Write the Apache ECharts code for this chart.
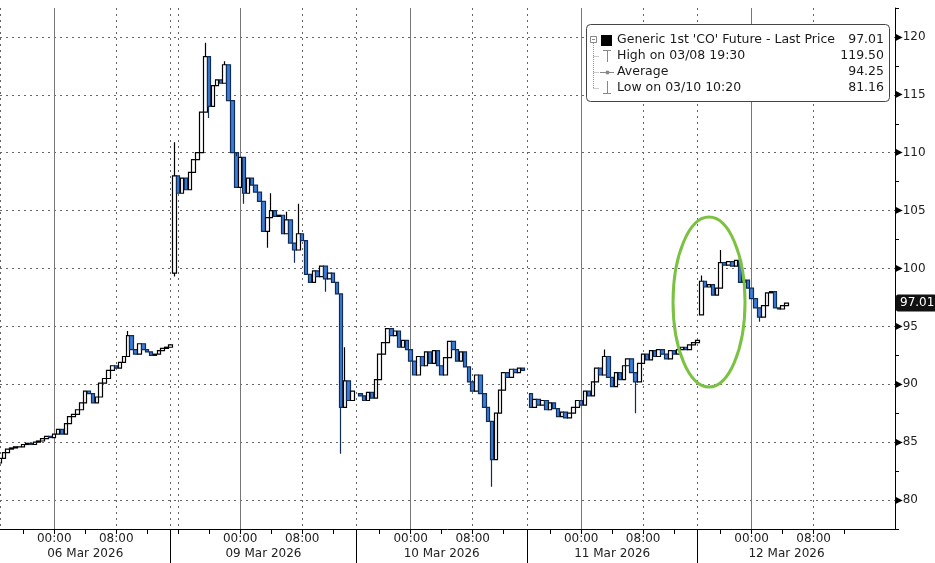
<!DOCTYPE html>
<html>
<head>
<meta charset="utf-8">
<script src="https://cdn.jsdelivr.net/npm/echarts@6/dist/echarts.min.js"></script>
<style>
  html, body { margin: 0; background: #fff; }
  #main { width: 935px; height: 563px; }
</style>
</head>
<body>
<div id="main"></div>
<script>
// 30 min bars, one close array per trading session
const sessionStart = [0, 45, 93, 137, 181];
const sessionOpen = [83.2, 99.6, 89.2, 89.2, 96.0];
const closes06Mar = [83.6, 84.1, 84.4, 84.5, 84.6, 84.6, 84.8, 84.9, 84.8, 85.0,
  85.1, 85.3, 85.5, 85.4, 85.7, 86.1, 85.7, 86.6, 87.2, 87.4,
  87.8, 88.4, 89.4, 89.2, 88.4, 88.9, 90.1, 90.5, 91.2, 91.6,
  91.4, 91.9, 92.4, 94.2, 93.0, 92.6, 93.5, 93.0, 92.8, 92.5,
  92.6, 92.9, 93.1, 93.2, 93.4];
const closes09Mar = [108.0, 106.5, 107.8, 106.8, 108.3, 109.4, 110.0, 113.5, 118.3, 114.0,
  115.8, 116.3, 116.0, 117.6, 114.5, 110.0, 107.0, 109.6, 106.5, 107.8,
  107.2, 106.6, 105.8, 103.2, 104.4, 105.0, 104.5, 104.6, 103.0, 104.2,
  102.2, 101.6, 103.0, 102.4, 99.5, 98.8, 99.8, 99.3, 100.2, 99.1,
  99.6, 98.8, 97.8, 88.0, 90.3, 88.6, 89.4];
const closes10Mar = [89.0, 88.6, 89.3, 88.8, 90.4, 92.6, 93.6, 94.8, 94.2, 94.6,
  93.2, 93.8, 93.0, 92.0, 90.8, 92.4, 91.6, 92.8, 91.8, 92.9,
  91.6, 90.8, 92.3, 93.7, 93.0, 92.0, 92.8, 91.5, 90.2, 89.4,
  90.8, 89.2, 88.0, 86.8, 83.5, 87.5, 89.5, 91.0, 90.6, 91.3,
  91.0, 91.4, 91.2];
const closes11Mar = [88.0, 88.7, 88.2, 88.6, 87.8, 88.4, 87.9, 87.2, 87.6, 87.1,
  87.5, 88.0, 88.6, 88.2, 89.4, 89.0, 90.2, 91.4, 90.8, 92.4,
  90.6, 89.8, 91.0, 90.4, 91.6, 92.2, 91.0, 90.2, 91.8, 92.6,
  92.1, 92.9, 92.4, 93.0, 92.6, 92.2, 92.9, 92.6, 93.0, 93.2,
  93.0, 93.4, 93.6, 93.8];
const closes12Mar = [98.9, 98.4, 98.6, 97.7, 98.3, 100.5, 100.3, 100.6, 100.2, 100.7,
  98.8, 99.0, 98.3, 97.4, 96.6, 95.8, 96.8, 97.9, 98.0, 96.6,
  96.5, 96.8, 97.01];
// [bar, low, high] where a wick sticks out of the body
const wicks = [[33, null, 94.6], [45, 99.3, 110.9], [53, null, 119.5], [54, 113.0, null],
  [58, null, 117.9], [61, null, 109.7], [63, 105.6, null], [69, 101.8, null],
  [70, null, 106.5], [74, null, 104.9], [76, 100.5, null], [77, null, 105.6],
  [84, 98.0, null], [88, 84.0, null], [89, null, 93.2], [127, 81.16, null],
  [156, null, 93.0], [164, 87.5, null], [181, null, 99.4], [186, null, 101.6],
  [196, 95.4, null]];

const barCount = 232;
const categories = Array.from({ length: barCount }, (_, i) => String(i));
const tickBars = [6, 14, 22, 30, 38, 46, 54, 62, 70, 78, 86, 98, 106, 114, 122, 130,
  142, 150, 158, 166, 174, 186, 194, 202, 210, 218];
const timeLabelBars = [14, 30, 62, 78, 106, 122, 150, 166, 194, 210];
const timeLabels = ['00:00', '08:00', '00:00', '08:00', '00:00', '08:00', '00:00', '08:00', '00:00', '08:00'];
const midnightBars = [14, 62, 106, 150, 194];
const dottedBars = [0, 30, 44, 46, 78, 92, 122, 136, 166, 180, 210];
const sessionBreaks = [44, 92, 136, 180];
const dateLabelBars = [22, 68, 114, 158, 203];
const dateLabels = ['06 Mar 2026', '09 Mar 2026', '10 Mar 2026', '11 Mar 2026', '12 Mar 2026'];

const legendNames = ["Generic 1st 'CO' Future - Last Price", 'High on 03/08 19:30', 'Average', 'Low on 03/10 10:20'];
const legendValues = ['97.01', '119.50', '94.25', '81.16'];
const lastPrice = 97.01;

const ohlc = categories.map(() => ['-', '-', '-', '-']);
[closes06Mar, closes09Mar, closes10Mar, closes11Mar, closes12Mar].forEach((closes, s) => {
  closes.forEach((c, j) => {
    const o = j === 0 ? sessionOpen[s] : closes[j - 1];
    ohlc[sessionStart[s] + j] = [o, c, Math.min(o, c), Math.max(o, c)];
  });
});
wicks.forEach(([i, lo, hi]) => {
  if (lo != null) ohlc[i][2] = lo;
  if (hi != null) ohlc[i][3] = hi;
});

const font = 'DejaVu Sans';
const dotted = { color: '#666', width: 1, type: [2, 4] };

// legend box drawn by hand (bloomberg style)
const rowY = [40, 56, 72, 88];
const iconStyle = { stroke: '#888', lineWidth: 1 };
const treeStyle = { stroke: '#999', lineWidth: 1, lineDash: [1, 1] };
const legendGraphic = [
  { type: 'rect', shape: { x: 586.5, y: 24.5, width: 303, height: 77, r: 4 }, style: { fill: '#fff', stroke: '#444', lineWidth: 1 }, z: 10 },
  { type: 'rect', shape: { x: 590.5, y: 36.5, width: 6, height: 6 }, style: { fill: '#fff', stroke: '#888', lineWidth: 1 }, z: 11 },
  { type: 'line', shape: { x1: 592, y1: 39.5, x2: 595, y2: 39.5 }, style: iconStyle, z: 11 },
  { type: 'rect', shape: { x: 601, y: 35, width: 11, height: 11 }, style: { fill: '#000' }, z: 11 },
  { type: 'line', shape: { x1: 593.5, y1: 43, x2: 593.5, y2: 88 }, style: treeStyle, z: 11 },
  { type: 'line', shape: { x1: 593.5, y1: 56.5, x2: 599, y2: 56.5 }, style: treeStyle, z: 11 },
  { type: 'line', shape: { x1: 593.5, y1: 72.5, x2: 599, y2: 72.5 }, style: treeStyle, z: 11 },
  { type: 'line', shape: { x1: 593.5, y1: 88.5, x2: 599, y2: 88.5 }, style: treeStyle, z: 11 },
  { type: 'line', shape: { x1: 603, y1: 50.5, x2: 611, y2: 50.5 }, style: iconStyle, z: 11 },
  { type: 'line', shape: { x1: 607.5, y1: 50, x2: 607.5, y2: 62 }, style: iconStyle, z: 11 },
  { type: 'line', shape: { x1: 600, y1: 72.5, x2: 614, y2: 72.5 }, style: iconStyle, z: 11 },
  { type: 'circle', shape: { cx: 607.5, cy: 72.5, r: 2 }, style: { fill: '#888' }, z: 11 },
  { type: 'line', shape: { x1: 607.5, y1: 81, x2: 607.5, y2: 93 }, style: iconStyle, z: 11 },
  { type: 'line', shape: { x1: 603, y1: 93.5, x2: 611, y2: 93.5 }, style: iconStyle, z: 11 }
];
legendNames.forEach((name, i) => {
  legendGraphic.push({ type: 'text', x: 617, y: rowY[i], z: 11,
    style: { text: name, font: '12.5px "DejaVu Sans"', fill: '#1a1a1a', verticalAlign: 'middle' } });
  legendGraphic.push({ type: 'text', x: 884, y: rowY[i], z: 11,
    style: { text: legendValues[i], font: '12.5px "DejaVu Sans"', fill: '#1a1a1a', verticalAlign: 'middle', align: 'right' } });
});

const chart = echarts.init(document.getElementById('main'));
chart.setOption({
  animation: false,
  textStyle: { fontFamily: font },
  grid: { left: 0, right: 40, top: 8, bottom: 34, containLabel: false },
  xAxis: [{
    type: 'category',
    data: categories,
    boundaryGap: false,
    axisLine: { lineStyle: { color: '#000', width: 1 } },
    axisTick: { interval: (i) => tickBars.includes(i), length: 5, lineStyle: { color: '#000' } },
    axisLabel: {
      interval: (i) => timeLabelBars.includes(i),
      formatter: (v, i) => timeLabels[timeLabelBars.indexOf(i)] || '',
      color: '#222', fontSize: 12, margin: 4, fontFamily: font
    },
    splitLine: { show: true, interval: (i) => midnightBars.includes(i), lineStyle: { color: '#777', width: 1 } }
  }, {
    type: 'category',
    data: categories,
    boundaryGap: false,
    position: 'bottom',
    axisLine: { show: false },
    axisTick: { show: true, interval: (i) => sessionBreaks.includes(i), length: 34, lineStyle: { color: '#000' } },
    axisLabel: {
      interval: (i) => dateLabelBars.includes(i),
      formatter: (v, i) => dateLabels[dateLabelBars.indexOf(i)] || '',
      color: '#222', fontSize: 12, margin: 19, fontFamily: font
    },
    splitLine: { show: true, interval: (i) => dottedBars.includes(i), lineStyle: dotted }
  }],
  yAxis: {
    type: 'value',
    position: 'right',
    min: 77.5,
    max: 122.5,
    interval: 2.5,
    axisLine: { show: true, lineStyle: { color: '#000' } },
    axisTick: { show: true, length: 4, lineStyle: { color: '#000' } },
    axisLabel: {
      margin: 0,
      formatter: (v) => (v % 5 === 0 ? '{a|▶}{b|' + v + '}' : ''),
      rich: {
        a: { fontSize: 10, color: '#000', fontFamily: font },
        b: { fontSize: 12, color: '#222', fontFamily: font }
      }
    },
    splitLine: { show: true, lineStyle: { color: ['rgba(0,0,0,0)', '#666'], width: 1, type: [2, 4] } }
  },
  series: [{
    type: 'candlestick',
    data: ohlc,
    barWidth: 4,
    itemStyle: {
      color: '#ffffff',
      color0: '#3b7dd8',
      borderColor: '#000000',
      borderColor0: '#102c58',
      borderWidth: 1.2
    },
    markLine: {
      silent: true,
      symbol: 'none',
      animation: false,
      lineStyle: { color: 'rgba(0,0,0,0)', width: 1 },
      label: {
        show: true, position: 'end', distance: 1,
        formatter: () => lastPrice.toFixed(2),
        color: '#fff', backgroundColor: '#111', padding: [3, 2, 2, 4],
        fontSize: 12, fontFamily: font, borderRadius: 2
      },
      data: [{ yAxis: lastPrice }]
    }
  }],
  graphic: legendGraphic
});

// green ring around the 12 Mar open
const ringCenter = chart.convertToPixel({ xAxisIndex: 0, yAxisIndex: 0 }, ['183', 97.1]);
chart.setOption({
  graphic: legendGraphic.concat([{
    type: 'ellipse', z: 20,
    shape: { cx: ringCenter[0], cy: ringCenter[1], rx: 36, ry: 85 },
    style: { fill: 'none', stroke: '#7cc242', lineWidth: 3 }
  }])
});
</script>
</body>
</html>
